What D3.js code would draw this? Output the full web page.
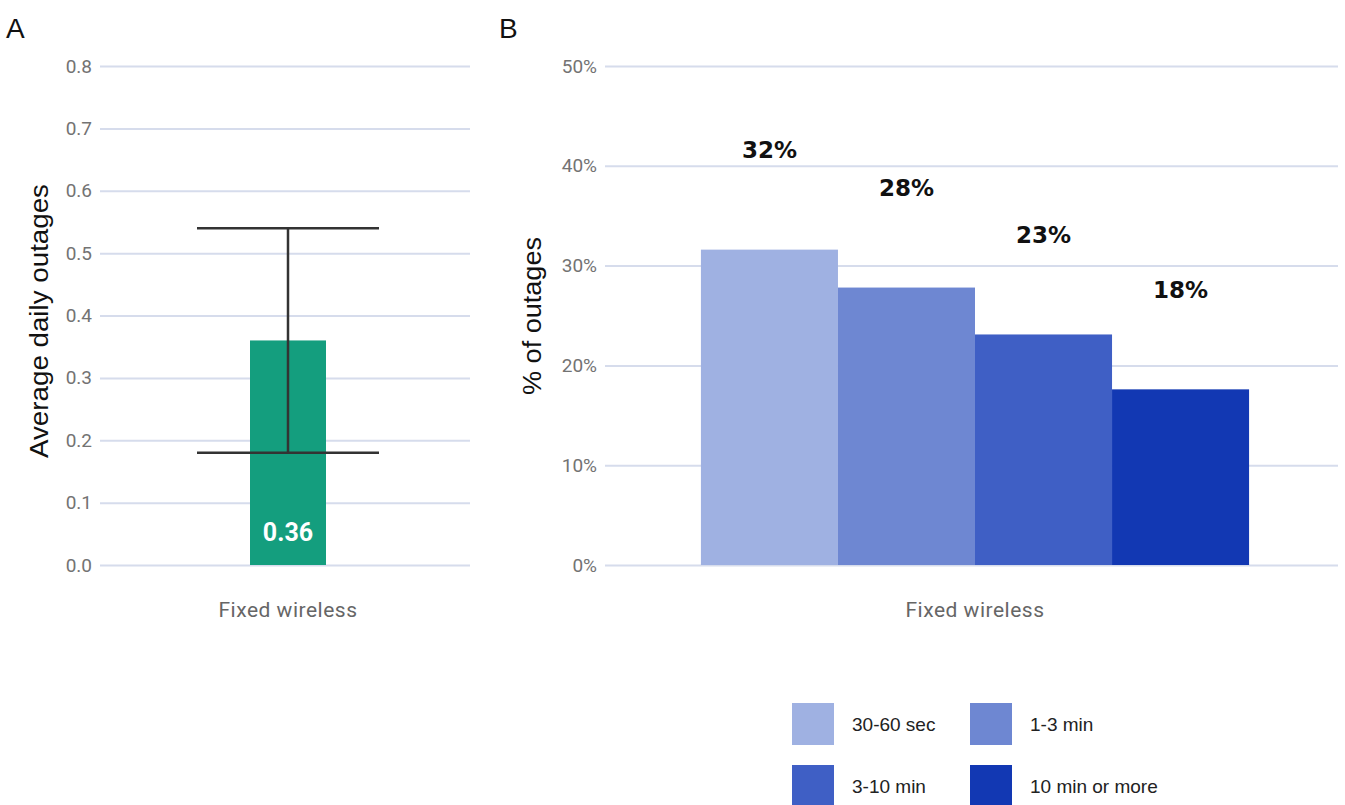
<!DOCTYPE html>
<html>
<head>
<meta charset="utf-8">
<script src="https://cdn.jsdelivr.net/npm/d3@7"></script>
<style>
  html, body { margin: 0; padding: 0; background: #fff; }
  svg { display: block; }
</style>
</head>
<body>
<svg id="chart" width="1345" height="805"></svg>
<script>
// Panel A: average daily outages with an error bar
const categoryA = ["Fixed wireless"];
const meanOutages = [0.36];
const errorLow = [0.18];
const errorHigh = [0.54];
const ticksA = [0, 0.1, 0.2, 0.3, 0.4, 0.5, 0.6, 0.7, 0.8];

// Panel B: share of outages by duration
const categoryB = ["Fixed wireless"];
const durations = ["30-60 sec", "1-3 min", "3-10 min", "10 min or more"];
const durationShare = [0.316, 0.278, 0.231, 0.176];
const durationColors = ["#9fb1e2", "#6e87d2", "#3f5fc5", "#1238b3"];
const ticksB = [0, 0.1, 0.2, 0.3, 0.4, 0.5];

const svg = d3.select("#chart");
const gridColor = "#d6dcec";
const tickFont = "Roboto, 'Liberation Sans', sans-serif";
const titleFont = "'Liberation Sans', Arial, sans-serif";
const labelFont = "'DejaVu Sans', sans-serif";

// ---------- Panel A ----------
const yA = d3.scaleLinear().domain([0, 0.8]).range([565, 66]);
const xA = d3.scaleBand().domain(categoryA).range([100, 476]).paddingInner(0.5).paddingOuter(0.987);

const gA = svg.append("g");

const axisA = gA.append("g")
  .attr("transform", "translate(100,0)")
  .call(d3.axisLeft(yA).tickValues(ticksA).tickFormat(d3.format(".1f")).tickSize(-370).tickPadding(8));
axisA.select(".domain").remove();
axisA.selectAll(".tick line").attr("stroke", gridColor).attr("stroke-width", 2);
axisA.selectAll(".tick text").attr("fill", "#737373").attr("font-size", 19).attr("font-family", tickFont);

gA.selectAll("rect.bar").data(meanOutages).join("rect")
  .attr("class", "bar")
  .attr("x", (d, i) => xA(categoryA[i]))
  .attr("width", xA.bandwidth())
  .attr("y", d => yA(d))
  .attr("height", d => yA(0) - yA(d))
  .attr("fill", "#149e7e");

gA.selectAll("text.val").data(meanOutages).join("text")
  .attr("class", "val")
  .attr("x", (d, i) => xA(categoryA[i]) + xA.bandwidth() / 2)
  .attr("y", yA(0) - 24)
  .attr("text-anchor", "middle")
  .attr("fill", "#fff")
  .attr("font-weight", "bold")
  .attr("font-size", 25)
  .attr("font-family", tickFont)
  .text(d => d3.format(".2f")(d));

// error bar
const ebHalf = 91;
meanOutages.forEach((d, i) => {
  const cx = xA(categoryA[i]) + xA.bandwidth() / 2;
  const eb = gA.append("g").attr("stroke", "#333").attr("stroke-width", 2.5);
  eb.append("line").attr("x1", cx).attr("x2", cx).attr("y1", yA(errorHigh[i])).attr("y2", yA(errorLow[i]));
  eb.append("line").attr("x1", cx - ebHalf).attr("x2", cx + ebHalf).attr("y1", yA(errorHigh[i])).attr("y2", yA(errorHigh[i]));
  eb.append("line").attr("x1", cx - ebHalf).attr("x2", cx + ebHalf).attr("y1", yA(errorLow[i])).attr("y2", yA(errorLow[i]));
});

gA.append("text")
  .attr("x", xA(categoryA[0]) + xA.bandwidth() / 2).attr("y", 617)
  .attr("text-anchor", "middle").attr("fill", "#666")
  .attr("font-size", 21).attr("letter-spacing", 0.5).attr("font-family", tickFont)
  .text(categoryA[0]);

gA.append("text")
  .attr("transform", "translate(48,321) rotate(-90)")
  .attr("text-anchor", "middle").attr("fill", "#111")
  .attr("font-size", 26).attr("font-family", titleFont)
  .attr("textLength", 274).attr("lengthAdjust", "spacingAndGlyphs")
  .text("Average daily outages");

svg.append("text").attr("x", 6).attr("y", 38)
  .attr("font-size", 28).attr("font-family", titleFont).attr("fill", "#111").text("A");

// ---------- Panel B ----------
const yB = d3.scaleLinear().domain([0, 0.5]).range([565, 66]);
const xB = d3.scaleBand().domain(categoryB).range([605, 1345]).paddingOuter(0.175);
const xSub = d3.scaleBand().domain(durations).range([0, xB.bandwidth()]).padding(0);

const gB = svg.append("g");

const axisB = gB.append("g")
  .attr("transform", "translate(605,0)")
  .call(d3.axisLeft(yB).tickValues(ticksB).tickFormat(d3.format(".0%")).tickSize(-733).tickPadding(8));
axisB.select(".domain").remove();
axisB.selectAll(".tick line").attr("stroke", gridColor).attr("stroke-width", 2);
axisB.selectAll(".tick text").attr("fill", "#737373").attr("font-size", 19).attr("font-family", tickFont);

const group = gB.append("g").attr("transform", `translate(${xB(categoryB[0])},0)`);

group.selectAll("rect").data(durationShare).join("rect")
  .attr("x", (d, i) => xSub(durations[i]))
  .attr("width", xSub.bandwidth())
  .attr("y", d => yB(d))
  .attr("height", d => yB(0) - yB(d))
  .attr("fill", (d, i) => durationColors[i]);

group.selectAll("text").data(durationShare).join("text")
  .attr("x", (d, i) => xSub(durations[i]) + xSub.bandwidth() / 2)
  .attr("y", d => yB(d + 0.1))
  .attr("dy", "0.36em")
  .attr("text-anchor", "middle")
  .attr("fill", "#111")
  .attr("font-weight", "bold")
  .attr("font-size", 23)
  .attr("font-family", labelFont)
  .text(d => d3.format(".0%")(d));

gB.append("text")
  .attr("x", xB(categoryB[0]) + xB.bandwidth() / 2).attr("y", 617)
  .attr("text-anchor", "middle").attr("fill", "#666")
  .attr("font-size", 21).attr("letter-spacing", 0.5).attr("font-family", tickFont)
  .text(categoryB[0]);

gB.append("text")
  .attr("transform", "translate(541,316) rotate(-90)")
  .attr("text-anchor", "middle").attr("fill", "#111")
  .attr("font-size", 26).attr("font-family", titleFont)
  .attr("textLength", 158).attr("lengthAdjust", "spacingAndGlyphs")
  .text("% of outages");

svg.append("text").attr("x", 499).attr("y", 38)
  .attr("font-size", 28).attr("font-family", titleFont).attr("fill", "#111").text("B");

// ---------- Legend ----------
const legend = svg.append("g").attr("transform", "translate(792,703)");
const item = legend.selectAll("g").data(durations).join("g")
  .attr("transform", (d, i) => `translate(${(i % 2) * 178},${Math.floor(i / 2) * 62})`);
item.append("rect")
  .attr("width", 42).attr("height", 42)
  .attr("fill", (d, i) => durationColors[i]);
item.append("text")
  .attr("x", 60).attr("y", 21).attr("dy", "0.35em")
  .attr("fill", "#222").attr("font-size", 19).attr("font-family", titleFont)
  .text(d => d);
</script>
</body>
</html>
